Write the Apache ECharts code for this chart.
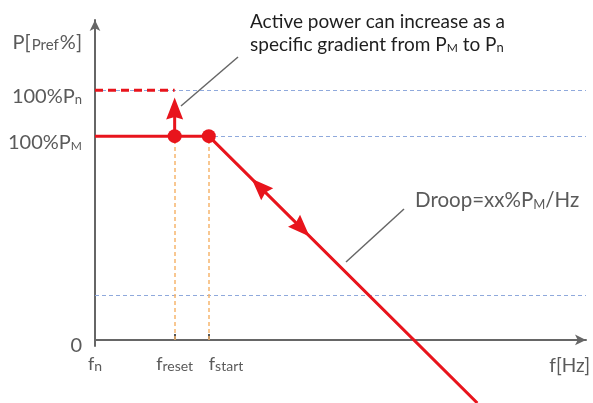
<!DOCTYPE html>
<html>
<head>
<meta charset="utf-8">
<script src="https://cdn.jsdelivr.net/npm/echarts@6/dist/echarts.min.js"></script>
<style>
html,body{margin:0;padding:0;background:#fff;overflow:hidden;}
#c{width:593px;height:403px;}
</style>
</head>
<body>
<div id="c"></div>
<script>
// ---- data ----
var xTickValues = [0, 1.4];                 // fn, freset
var xTickLabels = ['{a|f}{s|n}', '{a|f}{s|reset}'];
var xStartValues = [2];                     // fstart
var xStartLabels = ['{a|f}{s|start}'];
var yTickValues = [0, 100, 122.5, 149];
var yTickLabels = ['{a|0}', '{a|100%P}{m|M}', '{a|100%P}{s|n}', '{a|P[}{r|Pref}{a|%]}'];
var droopCurve = [[0, 100], [1.4, 100], [2, 100], [6.72, -31]];
var resetStartPoints = [[1.4, 100], [2, 100]];
var pnLine = [[0, 122.5], [1.4, 122.5]];
var gridLevels = [122.5, 100, 22];
var raiseStem = [[1.4, 100], [1.4, 110]];
var arrowHeads = [[1.4, 113.6], [2.89, 75.3], [3.635, 54.6]];
var arrowAngles = [0, 45, -135];

var FONT = 'Lato';
var RED = '#e8141c';
var GREY = '#5a5a5a';
var ARROW = 'path://M8,0L16,22L8,19.5L0,22Z';
var chart = echarts.init(document.getElementById('c'));

var richBase = {
  a: {fontSize: 20, fontFamily: FONT, color: GREY, verticalAlign: 'bottom', lineHeight: 22},
  s: {fontSize: 13, fontFamily: FONT, color: GREY, verticalAlign: 'bottom', lineHeight: 22},
  r: {fontSize: 15, fontFamily: FONT, color: GREY, verticalAlign: 'bottom', lineHeight: 22, padding: [0, 1, 0, 1]},
  m: {fontSize: 12, fontFamily: FONT, color: GREY, verticalAlign: 'bottom', lineHeight: 22}
};
var richX = JSON.parse(JSON.stringify(richBase));
richX.a.fontSize = 18; richX.s.fontSize = 14;

chart.setOption({
  animation: false,
  grid: {left: 95, right: 6, top: 20, bottom: 57},
  xAxis: [{
    type: 'value', min: 0, max: 8.63,
    axisLine: {onZero: true, symbol: ['none', 'arrow'], symbolSize: [8, 11], lineStyle: {color: '#666', width: 2}},
    axisTick: {show: true, customValues: [1.4, 2], inside: true, length: 6, lineStyle: {color: '#555', width: 2}},
    splitLine: {show: false},
    axisLabel: {
      customValues: xTickValues, margin: 5, hideOverlap: false, showMinLabel: true, showMaxLabel: true,
      formatter: function (v) { return xTickLabels[xTickValues.indexOf(v)] || ''; },
      rich: richX
    },
    name: 'f[Hz]', nameLocation: 'end', nameGap: 4,
    nameTextStyle: {fontSize: 19, fontFamily: FONT, color: GREY, align: 'right', verticalAlign: 'top', padding: [16, 0, 0, 0]}
  }, {
    type: 'value', min: 0, max: 8.63, position: 'bottom',
    axisLine: {show: false, onZero: true},
    axisTick: {show: false},
    splitLine: {show: false},
    axisLabel: {
      customValues: xStartValues, margin: 5, align: 'left', showMinLabel: true, showMaxLabel: true,
      formatter: function (v) { return xStartLabels[xStartValues.indexOf(v)] || ''; },
      rich: richX
    }
  }],
  yAxis: {
    type: 'value', min: -3, max: 157,
    axisLine: {symbol: ['none', 'arrow'], symbolSize: [8, 11], lineStyle: {color: '#666', width: 2}},
    axisTick: {show: false},
    splitLine: {show: false},
    axisLabel: {
      customValues: yTickValues, margin: 13, hideOverlap: false, showMinLabel: true, showMaxLabel: true,
      padding: [10, 0, 0, 0],
      formatter: function (v) { return yTickLabels[yTickValues.indexOf(v)] || ''; },
      rich: richBase
    }
  },
  series: [
    {
      type: 'line', data: [], silent: true, z: 1,
      markLine: {
        silent: true, symbol: 'none', label: {show: false},
        lineStyle: {color: '#8fa9dc', type: [4, 3], width: 1},
        data: gridLevels.map(function (v) { return {yAxis: v}; })
      }
    },
    {
      type: 'line', data: [], silent: true, z: 2,
      markLine: {
        silent: true, symbol: 'none', label: {show: false},
        lineStyle: {color: '#f6b56e', type: [4, 3], width: 1.5},
        data: resetStartPoints.map(function (p) { return [{coord: [p[0], 0]}, {coord: [p[0], p[1]]}]; })
      }
    },
    {
      type: 'line', data: pnLine, symbol: 'none', silent: true, z: 5,
      lineStyle: {color: RED, width: 3, type: [8, 5]}
    },
    {
      type: 'line', data: droopCurve, symbol: 'none', clip: false, silent: true, z: 5,
      lineStyle: {color: RED, width: 3}
    },
    {
      type: 'line', data: raiseStem, symbol: 'none', silent: true, z: 5,
      lineStyle: {color: RED, width: 3}
    },
    {
      type: 'scatter', silent: true, z: 6, clip: false,
      data: arrowHeads.map(function (p, i) { return {value: p, symbolRotate: arrowAngles[i]}; }),
      symbol: ARROW, symbolSize: [17, 22],
      itemStyle: {color: RED, opacity: 1}
    },
    {
      type: 'scatter', data: resetStartPoints, symbol: 'circle', symbolSize: 14, silent: true, z: 6,
      itemStyle: {color: RED, opacity: 1}
    }
  ],
  graphic: [
    {type: 'line', shape: {x1: 181, y1: 106, x2: 238, y2: 57}, style: {stroke: '#666', lineWidth: 1.5}},
    {type: 'line', shape: {x1: 346, y1: 262, x2: 404, y2: 209}, style: {stroke: '#666', lineWidth: 1.5}},
    {
      type: 'text', left: 250, top: 12,
      style: {
        text: '{a|Active power can increase as a}\n{a|specific gradient from P}{m|M}{a| to P}{s|n}',
        rich: {
          a: {fontSize: 19, fontFamily: FONT, fill: '#1e1e1e', verticalAlign: 'bottom', lineHeight: 23},
          s: {fontSize: 13, fontFamily: FONT, fill: '#1e1e1e', verticalAlign: 'bottom', lineHeight: 23},
          m: {fontSize: 12, fontFamily: FONT, fill: '#1e1e1e', verticalAlign: 'bottom', lineHeight: 23}
        }
      }
    },
    {
      type: 'text', left: 415, top: 190,
      style: {
        text: '{a|Droop=xx%P}{m|M}{a|/Hz}',
        rich: {
          a: {fontSize: 20.5, fontFamily: FONT, fill: GREY, verticalAlign: 'bottom', lineHeight: 24},
          m: {fontSize: 13, fontFamily: FONT, fill: GREY, verticalAlign: 'bottom', lineHeight: 24}
        }
      }
    }
  ]
});
</script>
</body>
</html>
